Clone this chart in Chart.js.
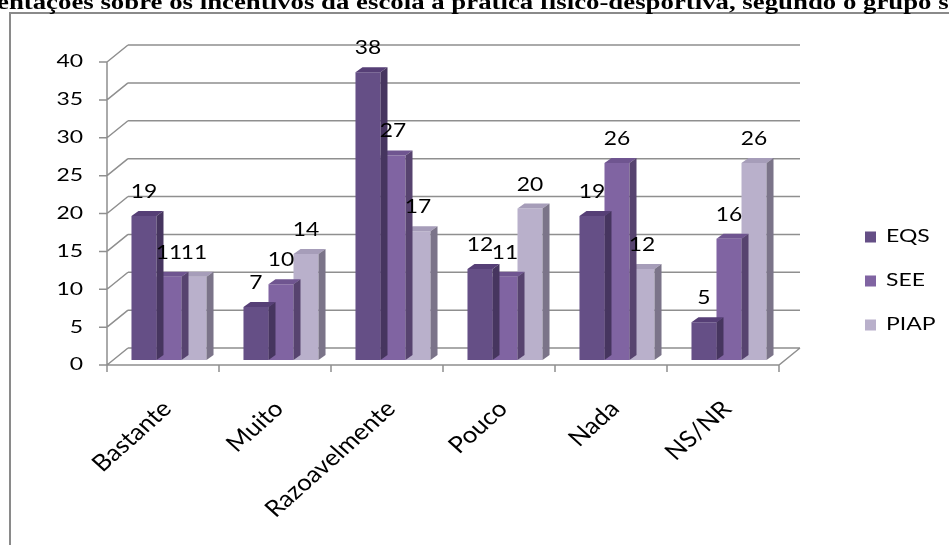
<!DOCTYPE html>
<html>
<head>
<meta charset="utf-8">
<script src="https://cdn.jsdelivr.net/npm/chart.js@4.4.1/dist/chart.umd.min.js"></script>
<style>
  html, body { margin: 0; padding: 0; background: #fff; overflow: hidden; }
  #c { display: block; }
</style>
</head>
<body>
<canvas id="c" width="949" height="545"></canvas>
<script>
// ---- data ----
const categories = ['Bastante', 'Muito', 'Razoavelmente', 'Pouco', 'Nada', 'NS/NR'];
const seriesNames = ['EQS', 'SEE', 'PIAP'];
const eqsValues = [19, 7, 38, 12, 19, 5];
const seeValues = [11, 10, 27, 11, 26, 16];
const piapValues = [11, 14, 17, 20, 12, 26];
const yTickValues = [0, 5, 10, 15, 20, 25, 30, 35, 40];
const titleText = 'entações sobre os incentivos da escola à prática físico-desportiva, segundo o grupo s';

// ---- styles ----
const frontColors = ['#654f86', '#8064a2', '#b9b0cb'];
const topColors = ['#563f76', '#6f5590', '#a69db9'];
const sideColors = ['#46355f', '#57436f', '#7b7489'];
const gridColor = '#8f8f8f';
const FONT = 'Lato, "Open Sans", sans-serif';

// depth offsets of the pseudo-3D box
const BAR_DX = 7, BAR_DY = -5;       // depth of each bar
const FRONT_DX = -6, FRONT_DY = 5;   // front plane relative to bar plane
const BACK_DX = 15, BACK_DY = -12;   // back wall relative to bar plane

function wideText(ctx, text, x, y, sx, align, baseline) {
  ctx.save();
  ctx.translate(x, y);
  ctx.scale(sx, 1);
  ctx.textAlign = align;
  ctx.textBaseline = baseline || 'alphabetic';
  ctx.fillText(text, 0, 0);
  ctx.restore();
}

const box3d = {
  id: 'box3d',
  beforeDraw(chart) {
    const ctx = chart.ctx;
    // outer frame and heading
    ctx.save();
    ctx.strokeStyle = '#8a8a8a';
    ctx.lineWidth = 2;
    ctx.strokeRect(10, 13, 1000, 600);
    ctx.fillStyle = '#000';
    ctx.font = 'bold 20px "Liberation Serif", "Times New Roman", serif';
    wideText(ctx, titleText, -3, 9, 1.34, 'left');
    ctx.restore();
  },
  beforeDatasetsDraw(chart) {
    const ctx = chart.ctx;
    const xs = chart.scales.x, ys = chart.scales.y, a = chart.chartArea;
    const y0 = ys.getPixelForValue(0);
    const yTop = ys.getPixelForValue(yTickValues[yTickValues.length - 1]);
    ctx.save();
    ctx.strokeStyle = gridColor;
    ctx.lineWidth = 1.5;
    ctx.beginPath();
    yTickValues.forEach(v => {
      const y = ys.getPixelForValue(v);
      // back wall line
      ctx.moveTo(a.left + BACK_DX, y + BACK_DY);
      ctx.lineTo(a.right + BACK_DX, y + BACK_DY);
      // side wall line
      ctx.moveTo(a.left + FRONT_DX, y + FRONT_DY);
      ctx.lineTo(a.left + BACK_DX, y + BACK_DY);
      // tick mark
      ctx.moveTo(a.left + FRONT_DX - 8, y + FRONT_DY);
      ctx.lineTo(a.left + FRONT_DX, y + FRONT_DY);
    });
    // value axis
    ctx.moveTo(a.left + FRONT_DX, yTop + FRONT_DY);
    ctx.lineTo(a.left + FRONT_DX, y0 + FRONT_DY);
    // floor front edge and right edge
    ctx.moveTo(a.left + FRONT_DX, y0 + FRONT_DY);
    ctx.lineTo(a.right + FRONT_DX, y0 + FRONT_DY);
    ctx.lineTo(a.right + BACK_DX, y0 + BACK_DY);
    // category ticks
    const step = (a.right - a.left) / categories.length;
    for (let i = 0; i <= categories.length; i++) {
      const x = a.left + i * step + FRONT_DX;
      ctx.moveTo(x, y0 + FRONT_DY);
      ctx.lineTo(x, y0 + FRONT_DY + 7);
    }
    ctx.stroke();

    // value labels
    ctx.fillStyle = '#000';
    ctx.font = '17px ' + FONT;
    yTickValues.forEach(v => {
      const y = ys.getPixelForValue(v) + FRONT_DY;
      wideText(ctx, String(v), 83, y, 1.35, 'right', 'middle');
    });

    // category labels
    ctx.font = '23px ' + FONT;
    categories.forEach((c, i) => {
      const x = xs.getPixelForValue(i) + FRONT_DX + 4;
      const y = y0 + FRONT_DY + 40;
      ctx.save();
      ctx.translate(x, y);
      ctx.scale(1.12, 1);
      ctx.rotate(-Math.PI / 4);
      ctx.textAlign = 'right';
      ctx.textBaseline = 'middle';
      ctx.fillText(c, 0, 0);
      ctx.restore();
    });
    ctx.restore();
  },
  afterDatasetDraw(chart, args) {
    const ctx = chart.ctx;
    const i = args.index;
    const meta = chart.getDatasetMeta(i);
    ctx.save();
    meta.data.forEach(bar => {
      const p = bar.getProps(['x', 'y', 'base', 'width'], true);
      const l = p.x - p.width / 2, r = p.x + p.width / 2;
      ctx.fillStyle = topColors[i];
      ctx.beginPath();
      ctx.moveTo(l, p.y);
      ctx.lineTo(r, p.y);
      ctx.lineTo(r + BAR_DX, p.y + BAR_DY);
      ctx.lineTo(l + BAR_DX, p.y + BAR_DY);
      ctx.closePath();
      ctx.fill();
      ctx.fillStyle = sideColors[i];
      ctx.beginPath();
      ctx.moveTo(r, p.y);
      ctx.lineTo(r + BAR_DX, p.y + BAR_DY);
      ctx.lineTo(r + BAR_DX, p.base + BAR_DY);
      ctx.lineTo(r, p.base);
      ctx.closePath();
      ctx.fill();
    });
    ctx.restore();
  },
  afterDatasetsDraw(chart) {
    const ctx = chart.ctx;
    ctx.save();
    ctx.fillStyle = '#000';
    ctx.font = '19px ' + FONT;
    chart.data.datasets.forEach((ds, i) => {
      const meta = chart.getDatasetMeta(i);
      meta.data.forEach((bar, j) => {
        const p = bar.getProps(['x', 'y'], true);
        wideText(ctx, String(ds.data[j]), p.x, p.y - 18, 1.2, 'center');
      });
    });
    // legend
    ctx.font = '17px ' + FONT;
    chart.data.datasets.forEach((ds, i) => {
      const cy = 237 + i * 44;
      ctx.fillStyle = ds.backgroundColor;
      ctx.fillRect(865, cy - 5.5, 11, 11);
      ctx.fillStyle = '#000';
      wideText(ctx, ds.label, 886, cy, 1.35, 'left', 'middle');
    });
    ctx.restore();
  }
};

const seriesData = [eqsValues, seeValues, piapValues];

new Chart(document.getElementById('c'), {
  type: 'bar',
  data: {
    labels: categories,
    datasets: seriesNames.map((name, i) => ({
      label: name,
      data: seriesData[i],
      backgroundColor: frontColors[i],
      borderWidth: 0,
      categoryPercentage: 0.67,
      barPercentage: 1.0
    }))
  },
  options: {
    responsive: false,
    animation: false,
    devicePixelRatio: 1,
    layout: { padding: { left: 113, right: 164, top: 57, bottom: 185 } },
    scales: {
      x: { display: false },
      y: { display: false, min: 0, max: 40 }
    },
    plugins: {
      legend: { display: false },
      tooltip: { enabled: false },
      title: { display: false }
    }
  },
  plugins: [box3d]
});
</script>
</body>
</html>
